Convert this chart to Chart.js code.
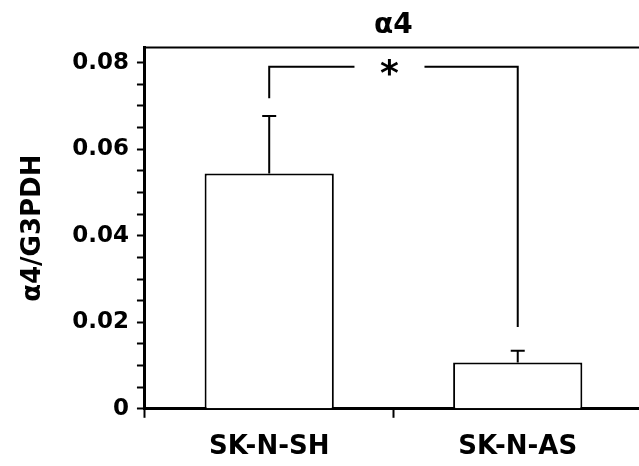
<!DOCTYPE html>
<html>
<head>
<meta charset="utf-8">
<script src="https://cdn.jsdelivr.net/npm/chart.js@4.4.1/dist/chart.umd.min.js"></script>
<style>
  html, body { margin: 0; padding: 0; background: #fff; overflow: hidden; }
  #wrap { width: 646px; height: 478px; }
</style>
</head>
<body>
<div id="wrap"><canvas id="chart"></canvas></div>
<script>
// ---- data ----
const categories = ['SK-N-SH', 'SK-N-AS'];
const means = [0.0544, 0.0107];
const errUpper = [0.0677, 0.0134];     // mean + SEM
const yMajorTicks = [0, 0.02, 0.04, 0.06, 0.08];
const yMinorStep = 0.005;
const yMax = 0.0835;
// significance bracket (data units)
const bracketTop = 0.0791;
const bracketEnds = [0.0718, 0.0189];
const bracketLabel = '*';

const FONT = 'DejaVu Sans';

// top frame line over the plot area
const frameTop = {
    id: 'frameTop',
    afterDraw(chart) {
        const { ctx, chartArea: a } = chart;
        ctx.save();
        ctx.strokeStyle = '#000';
        ctx.lineWidth = 2;
        ctx.beginPath();
        ctx.moveTo(a.left, a.top);
        ctx.lineTo(a.right, a.top);
        ctx.stroke();
        ctx.restore();
    }
};

// error bars + significance bracket
const annotations = {
    id: 'annotations',
    afterDatasetsDraw(chart) {
        const { ctx } = chart;
        const y = chart.scales.y;
        const bars = chart.getDatasetMeta(0).data;
        ctx.save();
        ctx.strokeStyle = '#000';
        ctx.lineWidth = 2;
        bars.forEach((b, i) => {
            const yt = y.getPixelForValue(errUpper[i]);
            ctx.beginPath();
            ctx.moveTo(b.x, b.y);
            ctx.lineTo(b.x, yt);
            ctx.moveTo(b.x - 7, yt);
            ctx.lineTo(b.x + 7, yt);
            ctx.stroke();
        });
        // bracket
        const x0 = bars[0].x, x1 = bars[1].x;
        const yb = y.getPixelForValue(bracketTop);
        const xm = (x0 + x1) / 2 - 4;
        const gap = 35;
        ctx.beginPath();
        ctx.moveTo(x0, y.getPixelForValue(bracketEnds[0]));
        ctx.lineTo(x0, yb);
        ctx.lineTo(xm - gap, yb);
        ctx.moveTo(xm + gap, yb);
        ctx.lineTo(x1, yb);
        ctx.lineTo(x1, y.getPixelForValue(bracketEnds[1]));
        ctx.stroke();
        ctx.fillStyle = '#000';
        ctx.font = 'bold 36px "' + FONT + '"';
        ctx.textAlign = 'center';
        ctx.textBaseline = 'alphabetic';
        ctx.fillText(bracketLabel, xm, yb + 18);
        ctx.restore();
    }
};

new Chart(document.getElementById('chart'), {
    type: 'bar',
    data: {
        labels: categories,
        datasets: [{
            data: means,
            backgroundColor: '#fff',
            borderColor: '#000',
            borderWidth: 2,
            barPercentage: 0.52,
            categoryPercentage: 1
        }]
    },
    options: {
        responsive: true,
        maintainAspectRatio: false,
        animation: false,
        layout: { padding: { left: 14, right: 4, top: 0, bottom: 1 } },
        plugins: {
            legend: { display: false },
            tooltip: { enabled: false },
            title: {
                display: true, text: 'α4', color: '#000', fullSize: false,
                font: { family: FONT, size: 28, weight: 'bold' },
                padding: { top: 9, bottom: 5 }
            }
        },
        scales: {
            x: {
                offset: true,
                grid: { offset: true, drawOnChartArea: false, tickLength: 9, tickColor: '#000', tickWidth: 2 },
                border: { color: '#000', width: 3 },
                ticks: { color: '#000', padding: 14, font: { family: FONT, size: 26, weight: 'bold' } }
            },
            y: {
                min: 0, max: yMax,
                afterBuildTicks: s => {
                    const top = yMajorTicks[yMajorTicks.length - 1];
                    const ticks = [];
                    for (let k = 0; k * yMinorStep <= top + 1e-9; k++) {
                        ticks.push({ value: +(k * yMinorStep).toFixed(4) });
                    }
                    s.ticks = ticks;
                },
                grid: { drawOnChartArea: false, tickLength: 8, tickColor: '#000', tickWidth: 2 },
                border: { color: '#000', width: 3 },
                ticks: {
                    color: '#000', padding: 8, autoSkip: false,
                    font: { family: FONT, size: 23, weight: 'bold' },
                    callback: v => {
                        const hit = yMajorTicks.find(m => Math.abs(m - v) < 1e-9);
                        if (hit === undefined) return '';
                        return hit === 0 ? '0' : hit.toFixed(2);
                    }
                },
                title: {
                    display: true, text: 'α4/G3PDH', color: '#000',
                    font: { family: FONT, size: 26, weight: 'bold' },
                    padding: { top: 4, bottom: 15 }
                }
            }
        }
    },
    plugins: [frameTop, annotations]
});
</script>
</body>
</html>
